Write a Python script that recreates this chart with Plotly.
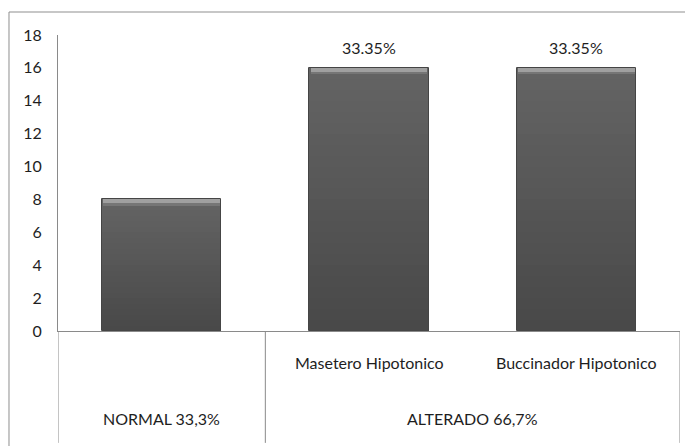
import plotly.graph_objects as go

# Data
categories = ["Normal", "Masetero Hipotonico", "Buccinador Hipotonico"]
counts = [8, 16, 16]
bar_labels = ["", "33.35%", "33.35%"]
sub_labels = ["", "Masetero Hipotonico", "Buccinador Hipotonico"]
group_labels = ["NORMAL 33,3%", "ALTERADO 66,7%"]
group_spans = [(0, 0), (1, 2)]
y_ticks = list(range(0, 19, 2))

FONT = "Lato, Roboto, sans-serif"
FSIZE = 16
TEXT = "#1e1e1e"
LINE = "#8a8a8a"
BAR_W = 0.575
xs = list(range(len(categories)))

fig = go.Figure()

# Vertical gradient body: slices from light (top) to dark (bottom)
n_slices = 24
top_rgb = (100, 100, 100)
bot_rgb = (72, 72, 72)
for k in range(n_slices):
    t = (k + 0.5) / n_slices
    rgb = tuple(round(b + (tp - b) * t) for b, tp in zip(bot_rgb, top_rgb))
    fig.add_trace(go.Bar(
        x=xs,
        y=[v / n_slices for v in counts],
        base=[v * k / n_slices for v in counts],
        width=BAR_W,
        marker=dict(color="rgb(%d,%d,%d)" % rgb, line=dict(width=0)),
        hoverinfo="skip", showlegend=False,
    ))

# Bevel highlight along the top of each bar
bevel = [(0.40, 0.20, "#767676"), (0.22, 0.22, "#a0a0a0")]
for depth, height, col in bevel:
    fig.add_trace(go.Bar(
        x=xs,
        y=[height for _ in counts],
        base=[v - depth for v in counts],
        width=BAR_W * 0.98,
        marker=dict(color=col, line=dict(width=0)),
        hoverinfo="skip", showlegend=False,
    ))

# Outline
fig.add_trace(go.Bar(
    x=xs, y=counts, width=BAR_W,
    marker=dict(color="rgba(0,0,0,0)", line=dict(color="#454545", width=1)),
    hovertext=categories, hoverinfo="text+y", showlegend=False,
))

annotations = []
for i, (v, lab) in enumerate(zip(counts, bar_labels)):
    if lab:
        annotations.append(dict(x=i, y=v, xref="x", yref="y", text=lab,
                                showarrow=False, yanchor="bottom", yshift=9,
                                font=dict(family=FONT, size=FSIZE, color=TEXT)))
for i, lab in enumerate(sub_labels):
    if lab:
        annotations.append(dict(x=i, y=-0.108, xref="x", yref="paper", text=lab,
                                showarrow=False, yanchor="middle",
                                font=dict(family=FONT, size=FSIZE, color=TEXT)))
for lab, (a, b) in zip(group_labels, group_spans):
    annotations.append(dict(x=(a + b) / 2, y=-0.297, xref="x", yref="paper", text=lab,
                            showarrow=False, yanchor="middle",
                            font=dict(family=FONT, size=FSIZE, color=TEXT)))

frame = dict(color="#8f8f8f", width=1)
shapes = [
    # chart frame (top and left edges)
    dict(type="line", xref="paper", yref="paper", x0=-0.0788, x1=1.02,
         y0=1.0777, y1=1.0777, line=frame, layer="below"),
    dict(type="line", xref="paper", yref="paper", x0=-0.0788, x1=-0.0788,
         y0=1.0777, y1=-0.45, line=frame, layer="below"),
]
# category table dividers
bounds = sorted({a - 0.5 for a, b in group_spans} | {b + 0.5 for a, b in group_spans})
for bx in bounds:
    shapes.append(dict(type="line", xref="x", yref="paper", x0=bx, x1=bx,
                       y0=0, y1=-0.378, line=dict(color=LINE, width=1)))

fig.update_layout(
    width=685, height=446,
    margin=dict(l=58, r=5, t=35, b=115),
    paper_bgcolor="white", plot_bgcolor="white",
    barmode="overlay", bargap=0,
    font=dict(family=FONT, size=FSIZE, color=TEXT),
    annotations=annotations, shapes=shapes,
    xaxis=dict(range=[-0.5, 2.5], showticklabels=False, ticks="",
               showgrid=False, zeroline=False,
               showline=True, linecolor=LINE, linewidth=1),
    yaxis=dict(range=[0, 18], tickvals=y_ticks, ticks="",
               ticklabelstandoff=12, showgrid=False, zeroline=False,
               showline=True, linecolor=LINE, linewidth=1,
               tickfont=dict(family=FONT, size=FSIZE, color=TEXT)),
)

fig.write_html("out.html")
